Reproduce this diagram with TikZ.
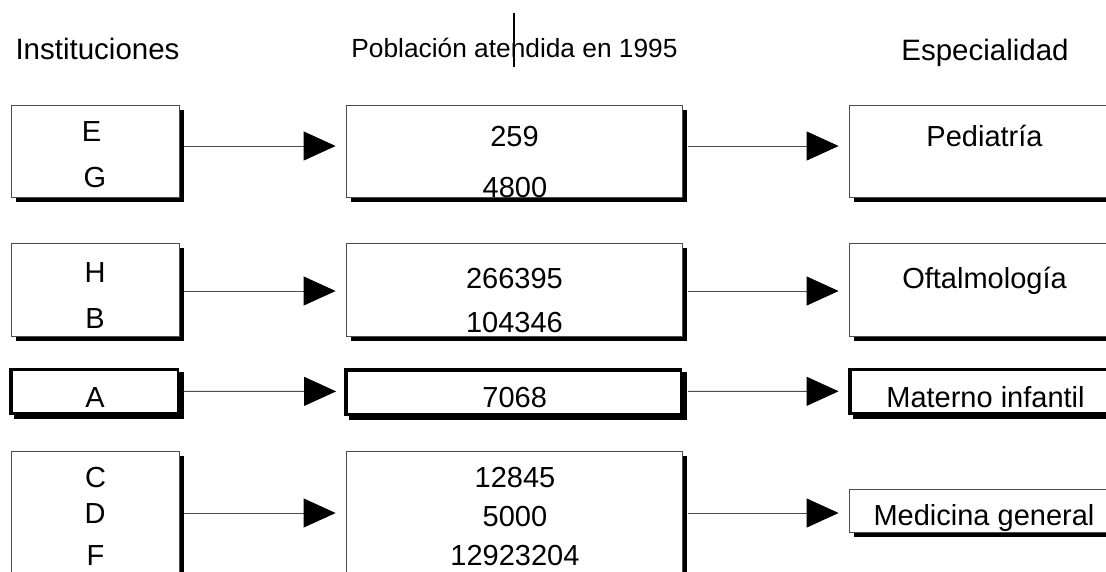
\documentclass[tikz,border=0pt]{standalone}
\usepackage{fontspec}
\setmainfont{Liberation Sans}
\usetikzlibrary{arrows.meta,shadows}
\begin{document}
\begin{tikzpicture}[x=1pt,y=-1pt,
  shad/.style={drop shadow={shadow xshift=4.5pt,shadow yshift=-4.5pt,fill=black,draw=none,opacity=1}},
  box/.style={shad,rectangle,draw=black!70,line width=0.8pt,fill=white,inner sep=0pt},
  thickbox/.style={shad,rectangle,draw=none,fill=black,inner sep=0pt},
  txt/.style={font=\fontsize{29}{29}\selectfont,anchor=base,inner sep=0pt},
  head/.style={font=\fontsize{29.5}{29.5}\selectfont,anchor=base,inner sep=0pt},
  conn/.style={draw=black!70,line width=0.9pt,-{Triangle[length=32pt,width=29pt,color=black,fill=black]}}]
\useasboundingbox (0,0) rectangle (1106,571);
\clip (0,0) rectangle (1106,571);
\fill[white] (0,0) rectangle (1106,571);

% headers
\node[head] (h1) at (97.5,59) {Instituciones};
\node[txt,font=\fontsize{26.3}{26.3}\selectfont] (h2) at (514.5,57) {Población atendida en 1995};
\node[head] (h3) at (985,60) {Especialidad};
\draw[line width=1.2pt] (514,13) -- (514,67);

% row 1
\node[box,minimum width=168pt,minimum height=92pt] (L1) at (95,151) {};
\node[box,minimum width=336pt,minimum height=92pt] (M1) at (514,151) {};
\node[box,minimum width=271pt,minimum height=92pt] (R1) at (984.5,151) {};
% row 2
\node[box,minimum width=168pt,minimum height=93pt] (L2) at (95,289.5) {};
\node[box,minimum width=336pt,minimum height=93pt] (M2) at (514,289.5) {};
\node[box,minimum width=271pt,minimum height=93pt] (R2) at (984.5,289.5) {};
% row 3
\node[thickbox,minimum width=170pt,minimum height=47.3pt] (L3) at (94.3,391.3) {};
\node[thickbox,minimum width=338pt,minimum height=48pt] (M3) at (513.3,391.7) {};
\node[thickbox,minimum width=272.4pt,minimum height=47.3pt] (R3) at (984.5,391.3) {};
\foreach \n in {L3,M3,R3}{
  \fill[white] ([shift={(4pt,-4pt)}]\n.north west) rectangle ([shift={(-2.5pt,3pt)}]\n.south east);
}
% row 4
\node[box,minimum width=168pt,minimum height=124pt] (L4) at (95,513) {};
\node[box,minimum width=336pt,minimum height=124pt] (M4) at (514,513) {};
\node[box,minimum width=271pt,minimum height=43pt] (R4) at (984.5,510.5) {};

% texts
\node[txt] (tE) at (91.5,141) {E};
\node[txt] (tG) at (95,187) {G};
\node[txt] (t259) at (514.5,146) {259};
\node[txt] (t4800) at (515,197) {4800};
\node[txt] (tPed) at (984.5,146) {Pediatría};

\node[txt] (tH) at (95,282) {H};
\node[txt] (tB) at (95,328) {B};
\node[txt] (t266) at (514.5,288) {266395};
\node[txt] (t104) at (514.5,332) {104346};
\node[txt] (tOft) at (984.5,288) {Oftalmología};

\node[txt] (tA) at (95,407) {A};
\node[txt] (t7068) at (514.7,407) {7068};
\node[txt] (tMat) at (985.5,407) {Materno infantil};

\node[txt] (tC) at (95.5,487) {C};
\node[txt] (tD) at (95,523) {D};
\node[txt] (tF) at (95.5,565) {F};
\node[txt] (t128) at (515,487) {12845};
\node[txt] (t5000) at (515,526) {5000};
\node[txt] (t129) at (515,565) {12923204};
\node[txt] (tMed) at (984,525) {Medicina general};

% connectors
\draw[conn] ([xshift=4.5pt,yshift=5pt]L1.east) -- ([xshift=-10pt,yshift=5pt]M1.west);
\draw[conn] ([xshift=5.5pt,yshift=5pt]M1.east) -- ([xshift=-10pt,yshift=5pt]R1.west);
\draw[conn] ([xshift=4.5pt,yshift=-1.5pt]L2.east) -- ([xshift=-10pt,yshift=-1.5pt]M2.west);
\draw[conn] ([xshift=5.5pt,yshift=-1.5pt]M2.east) -- ([xshift=-10pt,yshift=-1.5pt]R2.west);
\draw[conn] ([xshift=4pt]L3.east) -- ([xshift=-8pt,yshift=0.3pt]M3.west);
\draw[conn] ([xshift=5.5pt,yshift=0.3pt]M3.east) -- ([xshift=-9.5pt]R3.west);
\draw[conn] ([xshift=4.5pt]L4.east) -- ([xshift=-10pt]M4.west);
\draw[conn] ([xshift=5.5pt]M4.east) -- ([xshift=-10pt,yshift=-2.5pt]R4.west);
\end{tikzpicture}
\end{document}
